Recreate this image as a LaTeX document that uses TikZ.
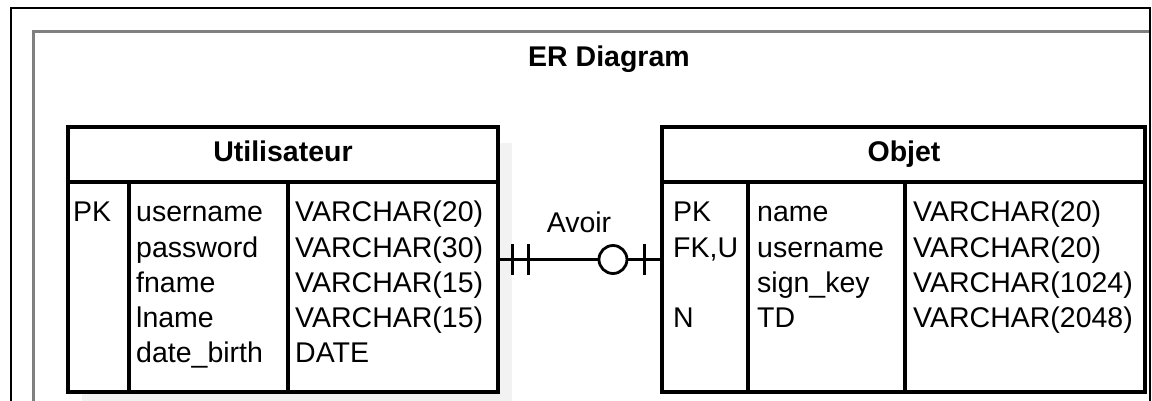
\documentclass[tikz,border=0pt]{standalone}
\usepackage{fontspec}
\setmainfont{Liberation Sans}
\usetikzlibrary{positioning}

\begin{document}
\begin{tikzpicture}[x=1pt, y=-1pt,
  every node/.style={font=\fontsize{28.5}{34}\selectfont, inner sep=0pt},
  bold/.style={font=\fontsize{28.5}{34}\selectfont\bfseries},
  tbl/.style={draw, fill=white, line width=3.2pt},
  tline/.style={line width=3.2pt},
  conn/.style={line width=2.8pt},
  bar/.style={fill=black, minimum width=3pt, minimum height=31pt},
  ring/.style={circle, draw, fill=white, line width=2.8pt, minimum size=28pt}]
\useasboundingbox (0,0) rectangle (1152,401);
% Frames
\draw[black!50, line width=3pt] (1150,32) -- (33,32) -- (33,430);
\draw[line width=2pt] (11,430) -- (11,8) -- (1150,8) -- (1150,430);
\node[bold, anchor=base] (title) at (609,67) {ER Diagram};
% Utilisateur table
\fill[black!5] (82,143) rectangle (512,420);
\node[tbl, minimum width=430, minimum height=265] (user) at (283,259.5) {};
\draw[tline] (68,182) -- (498,182);
\foreach \x in {129,288} \draw[tline] (\x,182) -- (\x,392);
\node[bold, anchor=base] (userhd) at (283,162) {Utilisateur};
\foreach \i/\k/\n/\t in {1/PK/username/VARCHAR(20), 2//password/VARCHAR(30), 3//fname/VARCHAR(15), 4//lname/VARCHAR(15), 5//date\_birth/DATE} {
  \node[anchor=base west] (uk\i) at (73,{222+35*(\i-1)}) {\k};
  \node[anchor=base west] (un\i) at (136,{222+35*(\i-1)}) {\n};
  \node[anchor=base west] (ut\i) at (295,{222+35*(\i-1)}) {\t};
}
% Objet table
\node[tbl, minimum width=483, minimum height=265] (obj) at (903.5,259.5) {};
\draw[tline] (662,182) -- (1145,182);
\foreach \x in {748,905} \draw[tline] (\x,182) -- (\x,392);
\node[bold, anchor=base] (objhd) at (904,162) {Objet};
\foreach \i/\k/\n/\t in {1/PK/name/VARCHAR(20), 2/{FK,U}/username/VARCHAR(20), 3//sign\_key/VARCHAR(1024), 4/N/TD/VARCHAR(2048)} {
  \node[anchor=base west] (ok\i) at (673,{222+35*(\i-1)}) {\k};
  \node[anchor=base west] (on\i) at (757,{222+35*(\i-1)}) {\n};
  \node[anchor=base west] (ot\i) at (913,{222+35*(\i-1)}) {\t};
}
% Relation
\draw[conn] (user.east) -- node[bar, pos=0.078] (b1) {} node[bar, pos=0.177] (b2) {}
  node[ring, pos=0.705] (r1) {} node[bar, pos=0.904] (b3) {} (obj.west);
\node[anchor=base] (avoir) at (579,233) {Avoir};
\end{tikzpicture}
\end{document}
